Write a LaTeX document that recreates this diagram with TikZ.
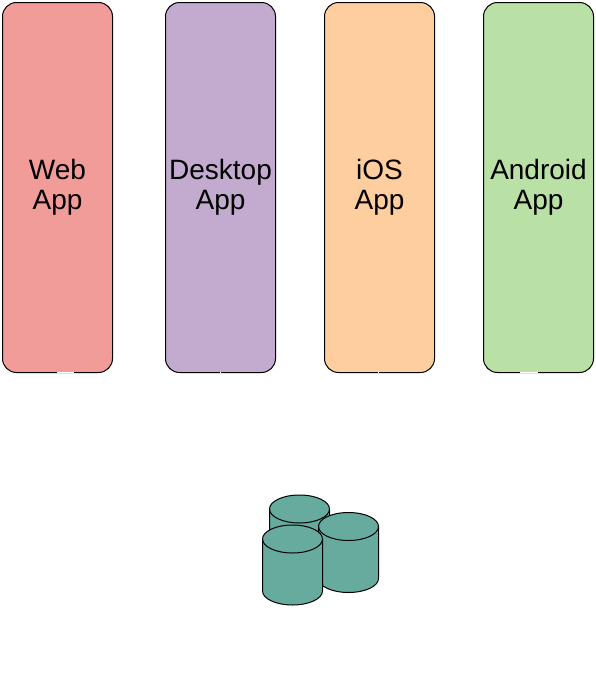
\documentclass[tikz,border=0pt]{standalone}
\usepackage{fontspec}
\setmainfont{Liberation Sans}
\definecolor{webred}{HTML}{F19C99}
\definecolor{desktoppurple}{HTML}{C3ABD0}
\definecolor{iosorange}{HTML}{FFCE9F}
\definecolor{androidgreen}{HTML}{B9E0A5}
\definecolor{dbteal}{HTML}{67AB9F}
\tikzset{
  appbox/.style={draw=black, line width=1pt, rounded corners=14pt, minimum width=110pt,
    minimum height=370pt, inner sep=0pt, align=center, font=\fontsize{28}{30}\selectfont},
  gapline/.style={draw=white, line width=1.2pt},
  dbcyl/.pic={
    \draw[fill=dbteal, line width=1pt] (-30,14) arc[start angle=180, end angle=0, x radius=30pt, y radius=14pt]
      -- (30,66) arc[start angle=0, end angle=-180, x radius=30pt, y radius=14pt] -- cycle;
    \draw[line width=1pt] (-30,14) arc[start angle=180, end angle=360, x radius=30pt, y radius=14pt];
  }
}
\begin{document}
\begin{tikzpicture}[x=1pt,y=-1pt]
  \useasboundingbox (0,0) rectangle (595,683);

  \node[appbox, fill=webred] (web) at (57.5,187.5) {Web\\App};
  \node[appbox, fill=desktoppurple] (desktop) at (220.5,187.5) {Desktop\\App};
  \node[appbox, fill=iosorange] (ios) at (379.5,187.5) {iOS\\App};
  \node[appbox, fill=androidgreen] (android) at (538.5,187.5) {Android\\App};

  % gaps in the lower edges
  \draw[gapline] (57,372.5) -- (74,372.5);
  \draw[gapline] (219.8,372.5) -- (220.8,372.5);
  \draw[gapline] (378,372.5) -- (379,372.5);
  \draw[gapline] (520,372.5) -- (538,372.5);

  \pic (dbback) at (299.5,495) {dbcyl};
  \pic (dbright) at (348.5,512.5) {dbcyl};
  \pic (dbfront) at (292.5,525) {dbcyl};
\end{tikzpicture}
\end{document}
